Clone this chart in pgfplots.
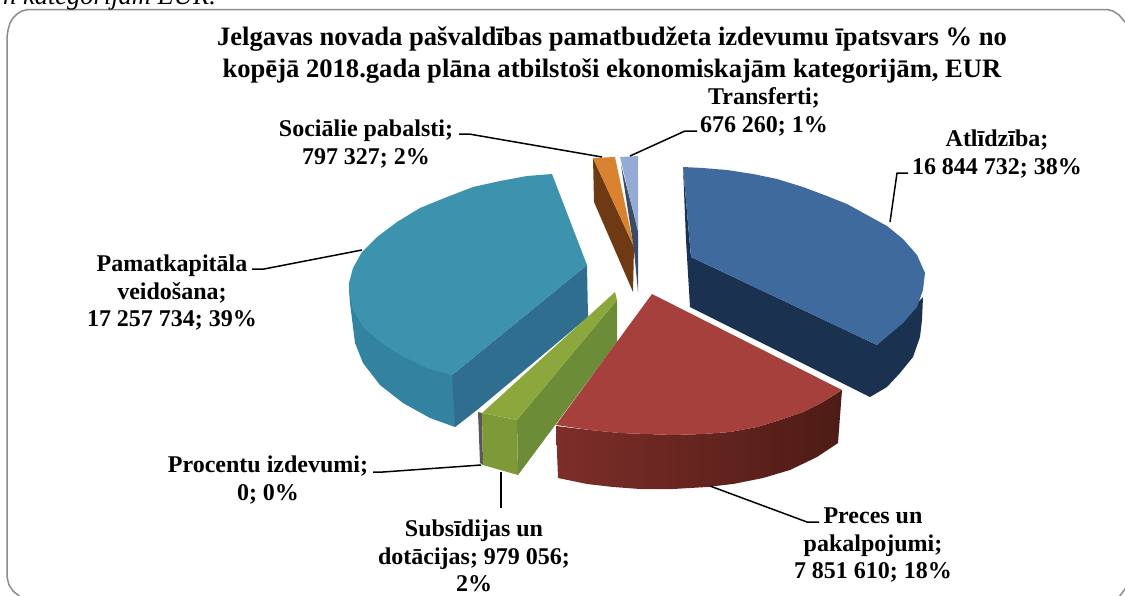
\documentclass[border=0pt]{standalone}
\usepackage{pgfplots}
\pgfplotsset{compat=1.18}
\usepackage{fontspec}
\setmainfont{Liberation Serif}
\definecolor{bt}{HTML}{3F6A9E}\definecolor{bd}{HTML}{1B3150}
\definecolor{rt}{HTML}{A6403D}\definecolor{rl}{HTML}{7D2E2A}\definecolor{rr}{HTML}{4E1B15}
\definecolor{gt}{HTML}{8CA83C}\definecolor{gf}{HTML}{7E9A38}\definecolor{gs}{HTML}{6C8C38}
\definecolor{tt}{HTML}{3D93AE}\definecolor{ti}{HTML}{2F6E8E}\definecolor{to}{HTML}{33829F}
\definecolor{ot}{HTML}{D9822F}\definecolor{od}{HTML}{6E3A14}
\definecolor{lt}{HTML}{94ABD6}\definecolor{ld}{HTML}{3C4A63}
\tikzset{lbl/.style={font=\fontsize{24}{27.5}\selectfont\bfseries,align=center,inner sep=0pt,text=black},
 ldr/.style={black,line width=1.5pt,line join=round}}
\begin{document}
\begin{tikzpicture}[x=1pt,y=1pt]
\useasboundingbox (0,0) rectangle (1125,595);
\clip (0,0) rectangle (1125,595);
\begin{axis}[at={(0,0)},anchor=south west,scale only axis,width=1125pt,height=595pt,
 xmin=0,xmax=1125,ymin=0,ymax=595,y dir=reverse,hide axis,clip=false]
% border
\addplot[draw=gray!90,line width=1.5pt,line join=round] coordinates {(25,602)(18,595)(13,591)(9,585)(7,577)(7,37)(8,30)(10,23)(13,18)(17,14)(22,11)(28,9.5)(1107,9.5)(1113,11)(1119,15)(1125,22)(1130,30)(1135,40)(1135,550)(1131,575)(1125,589)(1119,597)};
% teal: Pamatkapitala veidosana 39%
\addplot[fill=to,draw=none] coordinates {(349,290)(350,303)(355,343)(363,363)(380,385)(403,403)(430,418)(455,427)(470,415)(452,375)(400,320)};
\addplot[fill=ti,draw=none] coordinates {(587,265)(588,317)(477,410)(455,427)(452,375)};
\addplot[fill=tt,draw=none] coordinates {(552,174)(527,176)(500,181)(473,187)(447,197)(420,208)(397,222)(377,237)(362,252)(353,268)(349,283)(349,290)(353,310)(363,327)(380,342)(400,355)(427,368)(452,375)(587,265)};
% orange, lavender
\addplot[fill=od,draw=none] coordinates {(593,158)(594,202)(633,292)(634,247)};
\addplot[fill=ot,draw=none] coordinates {(593,158)(615,157)(634,247)};
\addplot[fill=ld,draw=none] coordinates {(621,165)(638,230)(638,292)(634,250)};
\addplot[fill=lt,draw=none] coordinates {(620,157)(638,156)(638,232)};
% blue 38%
\addplot[fill=bd,draw=none] coordinates {(683,167)(686,240)(690,307)(870,397)(887,387)(900,373)(913,357)(920,337)(922,320)(923,297)(877,345)(691,257)};
\addplot[fill=bt,draw=none] coordinates {(683,167)(703,168)(727,170)(753,174)(777,179)(803,187)(827,196)(847,204)(867,215)(887,226)(903,239)(917,255)(925,273)(923,290)(917,307)(903,323)(877,345)(691,257)};
% grey sliver and green
\addplot[fill=gray!70!black,draw=none] coordinates {(478,412)(482,413)(483,465)(480,463)};
\addplot[fill=gs,draw=none] coordinates {(517,420)(518,475)(617,342)(617,300)};
\addplot[fill=gf,draw=none] coordinates {(482,413)(517,420)(518,475)(483,465)};
\addplot[fill=gt,draw=none] coordinates {(482,413)(517,420)(617,300)(615,292)};
% red 18%
\addplot[left color=rl,right color=rr,draw=none] coordinates {(556,426)(558,478)(587,484)(613,487)(640,489)(673,489)(707,487)(733,484)(763,478)(790,470)(817,457)(838,443)(842,390)(823,402)(803,412)(780,420)(757,427)(730,432)(703,434)(673,435)(647,434)(620,433)(590,430)};
\addplot[fill=rt,draw=none] coordinates {(652,294)(842,390)(823,402)(803,412)(780,420)(757,427)(730,432)(703,434)(673,435)(647,434)(620,433)(590,430)(556,425)};
% leaders
\addplot[ldr] coordinates {(908,173)(897,173)(890,222)};
\addplot[ldr] coordinates {(710,486)(807,522)(819,522)};
\addplot[ldr] coordinates {(501,472)(501,508)};
\addplot[ldr] coordinates {(481,465)(383,472)(373,472)};
\addplot[ldr] coordinates {(252,269)(264,269)(362,250)};
\addplot[ldr] coordinates {(459,134)(469,134)(602,157)};
\addplot[ldr] coordinates {(630,156)(685,131)(697,131)};
% labels
\node[anchor=north,font=\fontsize{26.6}{32}\selectfont\bfseries,align=center,inner sep=0pt] at (axis cs:612,27) {Jelgavas novada pašvaldības pamatbudžeta izdevumu īpatsvars \% no\\kopējā 2018.gada plāna atbilstoši ekonomiskajām kategorijām, EUR};
\node[lbl] at (axis cs:764,112) {Transferti;\\676 260; 1\%};
\node[lbl] at (axis cs:366,144) {Sociālie pabalsti;\\797 327; 2\%};
\node[lbl] at (axis cs:997,154) {Atlīdzība;\\16 844 732; 38\%};
\node[lbl] at (axis cs:172,293) {Pamatkapitāla\\veidošana;\\17 257 734; 39\%};
\node[lbl] at (axis cs:268,480) {Procentu izdevumi;\\0; 0\%};
\node[lbl] at (axis cs:474,556) {Subsīdijas un\\dotācijas; 979 056;\\2\%};
\node[lbl] at (axis cs:873,545) {Preces un\\pakalpojumi;\\7 851 610; 18\%};
\node[anchor=base west,font=\fontsize{26.5}{30}\selectfont\itshape,inner sep=0pt] at (axis cs:3,4) {n kategorijām EUR.};
\end{axis}
\end{tikzpicture}
\end{document}
